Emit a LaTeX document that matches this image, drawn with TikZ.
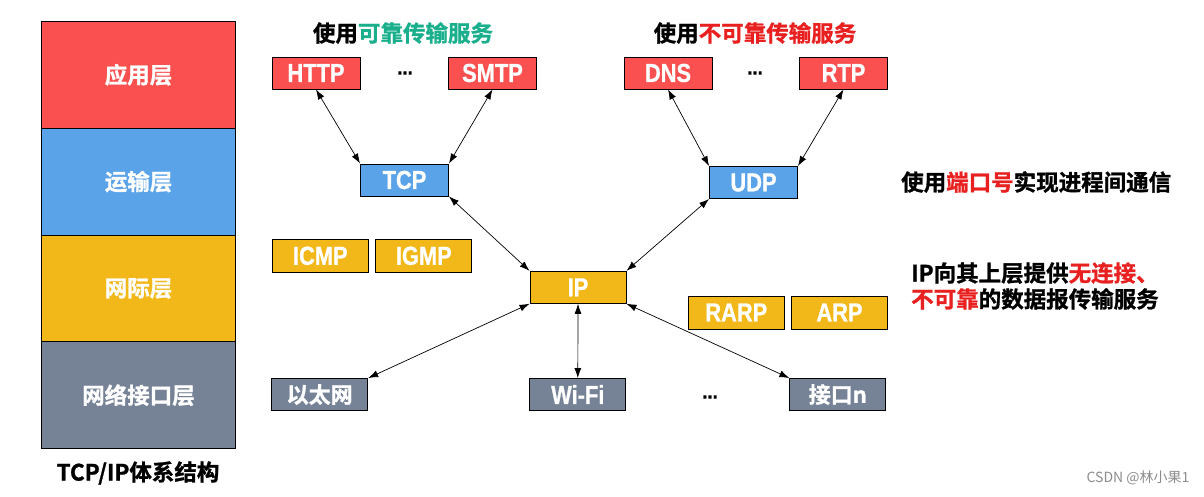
\documentclass[tikz,border=0pt]{standalone}
\usepackage{fontspec}
\setmainfont{Noto Sans CJK SC}[BoldFont={Noto Sans CJK SC Bold}, BoldFeatures={FakeBold=1.2}]
\newfontfamily\latfont{Liberation Sans}[FakeStretch=0.84, BoldFeatures={FakeBold=0.8}]
\usetikzlibrary{arrows.meta,positioning}

\definecolor{appred}{HTML}{FA5050}
\definecolor{tranblue}{HTML}{5AA3E8}
\definecolor{netyellow}{HTML}{F2B81A}
\definecolor{linkgray}{HTML}{768396}
\definecolor{okgreen}{HTML}{1AAF8C}
\definecolor{badred}{HTML}{E82020}

\begin{document}
\begin{tikzpicture}[x=1pt,y=-1pt,
    box/.style={draw, line width=0.9pt, minimum width=88pt, minimum height=32pt,
      inner sep=0pt, text=white, font=\latfont\bfseries\fontsize{26}{26}\selectfont},
    appbox/.style={box, fill=appred},
    tranbox/.style={box, fill=tranblue},
    netbox/.style={box, fill=netyellow, minimum width=96pt, minimum height=33pt},
    linkbox/.style={box, fill=linkgray, minimum width=96pt},
    zhbox/.style={font=\bfseries\fontsize{22}{22}\selectfont},
    layerbox/.style={draw, line width=0.9pt, outer sep=0pt, minimum width=194pt,
      minimum height=106.8pt, text=white, font=\bfseries\fontsize{22.5}{22.5}\selectfont},
    note/.style={font=\bfseries\fontsize{22.5}{26}\selectfont, inner sep=0pt},
    dotsbox/.style={font=\latfont\bfseries\fontsize{22}{22}\selectfont},
    conn/.style={{Latex[length=10pt,width=7pt]}-{Latex[length=10pt,width=7pt]}, line width=0.7pt}]
  \useasboundingbox (0,0) rectangle (1204,496);

  % layer column
  \node[layerbox, fill=appred] (lapp) at (138.5,74.8) {应用层};
  \node[layerbox, fill=tranblue, below=0pt of lapp] (ltran) {运输层};
  \node[layerbox, fill=netyellow, below=0pt of ltran] (lnet) {网际层};
  \node[layerbox, fill=linkgray, below=0pt of lnet] (llink) {网络接口层};
  \node[note] (archtitle) at (138,473) {TCP/IP体系结构};

  % application layer
  \node[note] (reltitle) at (403,33) {使用\textcolor{okgreen}{可靠传输服务}};
  \node[note] (unreltitle) at (755,33) {使用\textcolor{badred}{不可靠传输服务}};
  \node[appbox] (http) at (316,73) {HTTP};
  \node[dotsbox] (dotsa) at (405,73) {...};
  \node[appbox] (smtp) at (492.5,73) {SMTP};
  \node[appbox] (dns) at (668,73) {DNS};
  \node[dotsbox] (dotsb) at (755,73) {...};
  \node[appbox] (rtp) at (843.5,73) {RTP};

  % transport layer
  \node[tranbox] (tcp) at (404.5,180) {TCP};
  \node[tranbox] (udp) at (753.5,182.5) {UDP};
  \node[note, anchor=west] (portnote) at (901,182) {使用\textcolor{badred}{端口号}实现进程间通信};

  % internet layer
  \node[netbox] (icmp) at (320.3,255.8) {ICMP};
  \node[netbox] (igmp) at (423.8,255.8) {IGMP};
  \node[netbox, minimum height=32pt] (ip) at (578,287.3) {IP};
  \node[netbox] (rarp) at (736.3,312.5) {RARP};
  \node[netbox] (arp) at (839.5,312.5) {ARP};
  \node[note, anchor=west, align=left] (ipnote) at (911,286)
    {IP向其上层提供\textcolor{badred}{无连接、}\\\textcolor{badred}{不可靠}的数据报传输服务};

  % link layer
  \node[linkbox, zhbox] (eth) at (319.7,394.5) {以太网};
  \node[linkbox] (wifi) at (577.8,394.5) {Wi-Fi};
  \node[dotsbox] (dotsc) at (710,397) {...};
  \node[linkbox, zhbox] (ifn) at (837.8,394.5) {接口n};

  \draw[conn] (http.south) -- (tcp.north west);
  \draw[conn] (smtp.south) -- (tcp.north east);
  \draw[conn] (dns.south) -- (udp.north west);
  \draw[conn] (rtp.south) -- (udp.north east);
  \draw[conn] (tcp.south east) -- (ip.north west);
  \draw[conn] (udp.south west) -- (ip.north east);
  \draw[conn] (ip.south west) -- (eth.north east);
  \draw[conn] (ip.south) -- (wifi.north);
  \draw[conn] (ip.south east) -- (ifn.north west);

  \node[font=\fontsize{14}{14}\selectfont, text=black!45, anchor=east] (csdn) at (1193,478) {CSDN @林小果1};
\end{tikzpicture}
\end{document}
